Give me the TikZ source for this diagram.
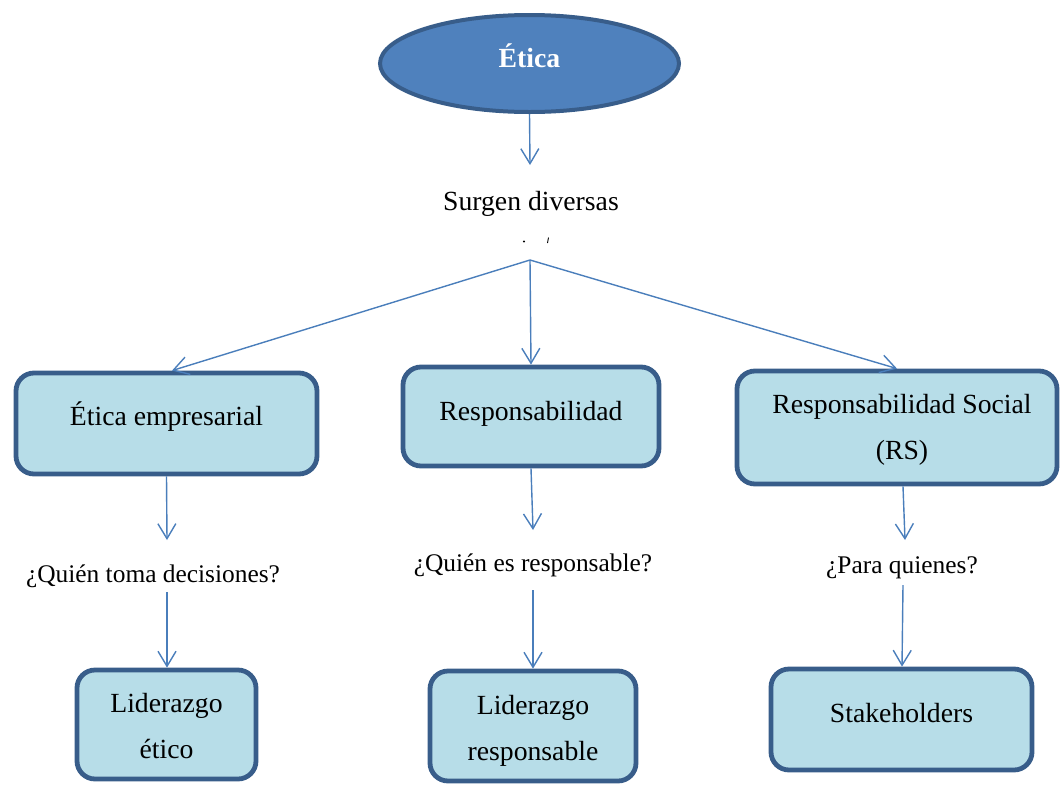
\documentclass[tikz,border=0pt]{standalone}
\usepackage{fontspec}
\setmainfont{Liberation Serif}
\usetikzlibrary{arrows.meta,shapes.geometric}
\definecolor{edgeblue}{HTML}{385D8A}
\definecolor{ovalfill}{HTML}{4F81BD}
\definecolor{boxfill}{HTML}{B7DDE8}
\definecolor{linkblue}{HTML}{4A7EBB}
\begin{document}
\begin{tikzpicture}[x=1pt,y=-1pt,
  box/.style={draw=edgeblue, line width=4.8pt, fill=boxfill, rounded corners=18pt, inner sep=0pt},
  link/.style={draw=linkblue, line width=1.4pt, -{Straight Barb[length=15pt,width=18pt]}},
  txt/.style={font=\fontsize{27.7}{33}\selectfont, inner sep=0pt, anchor=base},
  question/.style={txt, font=\fontsize{25.4}{30}\selectfont}]
\useasboundingbox (0,0) rectangle (1060,785);

% top oval
\node[ellipse, draw=edgeblue, line width=4pt, fill=ovalfill, minimum width=299pt, minimum height=97pt, inner sep=0pt] (etica) at (529.5,63.5) {};
\node[txt, text=white, font=\fontsize{27.7}{33}\selectfont\bfseries] (eticat) at (529.5,67) {Ética};

% intermediate text
\node[txt] (surgen) at (531,210) {Surgen diversas};
\coordinate (surgenin) at (530,165);
\fill (524,241.5) circle (1.1pt);
\draw[line width=0.9pt] (548.5,237.5) -- (547.5,243);
\coordinate (split) at (530,260);

% first row of boxes
\node[box, minimum width=301pt, minimum height=101pt] (b1) at (166.5,423.5) {};
\node[box, minimum width=256pt, minimum height=99pt] (b2) at (531,416.5) {};
\node[box, minimum width=320pt, minimum height=113pt] (b3) at (897,427.5) {};
\node[txt] (b1t) at (166.5,425) {Ética empresarial};
\node[txt] (b2t) at (531,420) {Responsabilidad};
\node[txt] (b3t) at (902,413) {Responsabilidad Social};
\node[txt] (b3u) at (902,459) {(RS)};

% questions
\node[question] (q1) at (153,582) {¿Quién toma decisiones?};
\node[question] (q2) at (533,571) {¿Quién es responsable?};
\node[question] (q3) at (902,573) {¿Para quienes?};
\coordinate (q1in) at (167,540);
\coordinate (q1out) at (167,592);
\coordinate (q2in) at (533,530);
\coordinate (q2out) at (533,590);
\coordinate (q3in) at (905,540);
\coordinate (q3out) at (903,585);

% bottom boxes
\node[box, minimum width=179pt, minimum height=109pt] (b4) at (166.5,724.5) {};
\node[box, minimum width=206pt, minimum height=110pt] (b5) at (533,726) {};
\node[box, minimum width=261pt, minimum height=101pt] (b6) at (901.5,719.5) {};
\node[txt] (b4t) at (166.5,712) {Liderazgo};
\node[txt] (b4u) at (166.5,758) {ético};
\node[txt] (b5t) at (533,714) {Liderazgo};
\node[txt] (b5u) at (533,760) {responsable};
\node[txt] (b6t) at (901.5,722) {Stakeholders};

% connectors
\draw[link] (etica.south) -- (surgenin);
\draw[link] (split) -- (b1.north -| 172,0);
\draw[link] (split) -- (b2.north);
\draw[link] (split) -- (b3.north -| 897,0);
\draw[link] (b1.south) -- (q1in);
\draw[link] (b2.south -| 531,0) -- (q2in);
\draw[link] (b3.south -| 903,0) -- (q3in);
\draw[link] (q1out) -- (b4.north -| 167,0);
\draw[link] (q2out) -- (b5.north -| 533,0);
\draw[link] (q3out) -- (b6.north -| 902,0);
\end{tikzpicture}
\end{document}
